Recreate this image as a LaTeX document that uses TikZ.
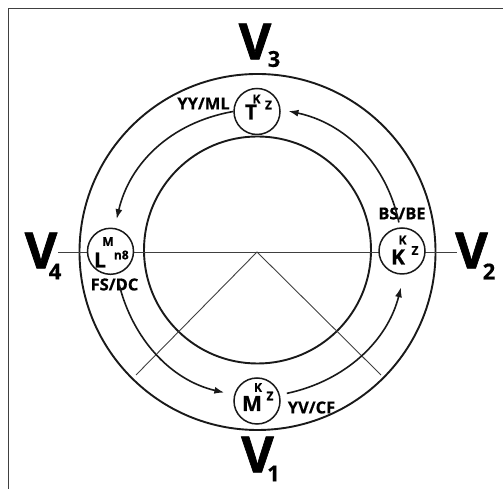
\documentclass[tikz,border=0pt]{standalone}
\usepackage{fontspec}
\setmainfont{Open Sans}
\newfontfamily\heavyfont{Open Sans}[FakeBold=1.4]
\newfontfamily\semiheavy{Open Sans}[FakeBold=0.6]
\usetikzlibrary{arrows.meta}
\begin{document}
\begin{tikzpicture}[x=1pt,y=1pt,
  ring/.style={draw=black!90, line width=1.9pt},
  guide/.style={draw=black!75, line width=0.9pt},
  subc/.style={circle, draw=black!90, line width=1.5pt, fill=white, minimum size=46pt, inner sep=0pt},
  bigl/.style={font=\fontsize{21}{21}\selectfont\semiheavy\bfseries, inner sep=0pt},
  supl/.style={font=\fontsize{12}{12}\selectfont\semiheavy\bfseries, inner sep=0pt},
  lab/.style={font=\fontsize{16.5}{16.5}\selectfont\semiheavy\bfseries, inner sep=0pt},
  vv/.style={font=\fontsize{50}{50}\selectfont\heavyfont\bfseries, inner sep=0pt},
  vsub/.style={font=\fontsize{22}{22}\selectfont\semiheavy\bfseries, inner sep=0pt},
  arr/.style={line width=1.6pt, draw=black!90, -{Latex[length=10pt,width=7pt]}},
]
\useasboundingbox (0,0) rectangle (503,489);
% frame
\coordinate (f1) at (8,0);
\coordinate (f2) at (8,480);
\coordinate (f3) at (503,480);
\draw[black!75, line width=1pt] (f1) -- (f2) -- (f3);
% circles
\coordinate (hub) at (257,237);
\draw[ring] (257.5,237) circle[radius=178];
\draw[ring] (257.5,239) circle[radius=113.5];
% guide lines
\coordinate (hl) at (58,236.3);
\coordinate (hr) at (457,236.3);
\coordinate (dl) at (136,114);
\coordinate (dr) at (381,114);
\draw[guide] (hl) -- (hr);
\draw[guide] (dl) -- (hub) -- (dr);
% sub circles
\node[subc] (T) at (257,377.5) {};
\node[subc] (K) at (402,238) {};
\node[subc] (L) at (110.5,237.7) {};
\node[subc] (M) at (257,88) {};
% inner letters
\node[bigl] (tT) at (251,377) {T};
\node[supl] (tK) at (256.5,390) {K};
\node[supl] (tZ) at (268.5,384) {Z};
\node[bigl] (kK) at (398,232) {K};
\node[supl] (kk) at (402.5,249) {K};
\node[supl] (kZ) at (415,238.5) {Z};
\node[supl] (lM) at (108,247.5) {M};
\node[bigl] (lL) at (100,229) {L};
\node[supl] (ln) at (121.3,234) {n8};
\node[supl] (mK) at (258,101.5) {K};
\node[bigl] (mM) at (252,85.5) {M};
\node[supl] (mZ) at (270,93) {Z};
% labels
\node[lab] (l1) at (203.5,385.5) {YY/ML};
\node[lab] (l2) at (402,275.5) {BS/BE};
\node[lab] (l3) at (114.5,204.5) {FS/DC};
\node[lab] (l4) at (311.5,81.5) {YV/CF};
% V labels
\node[vv] (V3) at (255,447.5) {V};
\node[vsub] (n3) at (274,430) {3};
\node[vv] (V4) at (41,238.5) {V};
\node[vsub] (n4) at (55,217.5) {4};
\node[vv] (V2) at (471.5,238.5) {V};
\node[vsub] (n2) at (489,217.5) {2};
\node[vv] (V1) at (257.5,34.5) {V};
\node[vsub] (n1) at (273.5,15.5) {1};
% arrows
\draw[arr, shorten >=9pt] (T.west) to[out=190, in=77] (L.80);
\draw[arr, shorten <=5pt, shorten >=8pt] (K.95) to[out=102, in=348] (T.5);
\draw[arr, shorten <=11pt, shorten >=10pt] (L.285) to[out=284, in=167] (M.165);
\draw[arr, shorten <=7pt, shorten >=13pt] (M.15) to[out=12, in=256] (K.275);
\end{tikzpicture}
\end{document}
